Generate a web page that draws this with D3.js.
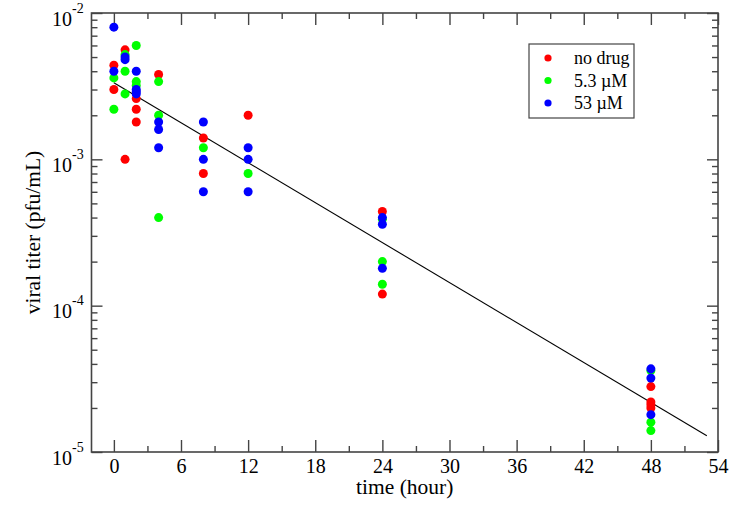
<!DOCTYPE html>
<html>
<head>
<meta charset="utf-8">
<script src="https://cdn.jsdelivr.net/npm/d3@7/dist/d3.min.js"></script>
<style>
  html, body { margin: 0; padding: 0; background: #fff; }
  svg { display: block; font-family: "Liberation Serif", "Times New Roman", serif; }
</style>
</head>
<body>
<svg id="chart" width="750" height="520"></svg>
<script>
// ---- data ----
const seriesNames = ["no drug", "5.3 \u00b5M", "53 \u00b5M"];
const seriesColors = ["#ff0000", "#00ff00", "#0000ff"];

const noDrugTime  = [0, 0, 1, 1, 2, 2, 2, 4, 8, 8, 12, 24, 24, 48, 48, 48, 48];
const noDrugTiter = [4.4e-3, 3.0e-3, 5.6e-3, 1.0e-3, 2.6e-3, 2.2e-3, 1.8e-3, 3.8e-3, 1.4e-3, 8.0e-4, 2.0e-3, 4.4e-4, 1.2e-4, 2.8e-5, 2.2e-5, 2.1e-5, 2.0e-5];

const lowDrugTime  = [0, 0, 1, 1, 1, 2, 2, 2, 4, 4, 4, 8, 12, 24, 24, 24, 48, 48, 48];
const lowDrugTiter = [3.6e-3, 2.2e-3, 5.2e-3, 4.0e-3, 2.8e-3, 6.0e-3, 3.4e-3, 3.2e-3, 3.4e-3, 2.0e-3, 4.0e-4, 1.2e-3, 8.0e-4, 3.9e-4, 2.0e-4, 1.4e-4, 3.6e-5, 1.6e-5, 1.4e-5];

const highDrugTime  = [0, 0, 1, 1, 2, 2, 2, 2, 4, 4, 4, 8, 8, 8, 12, 12, 12, 24, 24, 24, 48, 48, 48];
const highDrugTiter = [8.0e-3, 4.0e-3, 5.0e-3, 4.8e-3, 4.0e-3, 3.0e-3, 2.9e-3, 2.8e-3, 1.8e-3, 1.6e-3, 1.2e-3, 1.8e-3, 1.0e-3, 6.0e-4, 1.2e-3, 1.0e-3, 6.0e-4, 4.0e-4, 3.6e-4, 1.8e-4, 3.7e-5, 3.2e-5, 1.8e-5];

const fitTime  = [0, 53];
const fitTiter = [3.34e-3, 1.29e-5];

const xTicks = [0, 6, 12, 18, 24, 30, 36, 42, 48, 54];
const xMinorTicks = [3, 9, 15, 21, 27, 33, 39, 45, 51];
const yTickExponents = [-2, -3, -4, -5];

// ---- layout ----
const svg = d3.select("#chart");
const L = 91.5, R = 718, T = 13, B = 452;

const x = d3.scaleLinear().domain([-2, 54]).range([L, R]);
const y = d3.scaleLog().domain([1e-5, 1e-2]).range([B, T]);

const yMajor = yTickExponents.map(e => Math.pow(10, e));
const yMinor = [];
[-5, -4, -3].forEach(e => { for (let k = 2; k <= 9; k++) yMinor.push(k * Math.pow(10, e)); });

const axisColor = "#444";
function styleAxis(g) {
  g.select(".domain").remove();
  g.selectAll(".tick line").attr("stroke", axisColor).attr("stroke-width", 1.4);
}

// bottom
svg.append("g").attr("transform", `translate(0,${B})`)
  .call(d3.axisBottom(x).tickValues(xTicks).tickSize(-12).tickPadding(7).tickFormat(d3.format("d")))
  .call(styleAxis)
  .call(g => g.selectAll("text").attr("font-size", 20).attr("fill", "#000").attr("font-family", "Liberation Serif, serif"));
svg.append("g").attr("transform", `translate(0,${B})`)
  .call(d3.axisBottom(x).tickValues(xMinorTicks).tickSize(-6).tickFormat(""))
  .call(styleAxis);
// top
svg.append("g").attr("transform", `translate(0,${T})`)
  .call(d3.axisTop(x).tickValues(xTicks).tickSize(-12).tickFormat(""))
  .call(styleAxis);
svg.append("g").attr("transform", `translate(0,${T})`)
  .call(d3.axisTop(x).tickValues(xMinorTicks).tickSize(-6).tickFormat(""))
  .call(styleAxis);
// left
svg.append("g").attr("transform", `translate(${L},0)`)
  .call(d3.axisLeft(y).tickValues(yMajor).tickSize(-11).tickFormat(""))
  .call(styleAxis);
svg.append("g").attr("transform", `translate(${L},0)`)
  .call(d3.axisLeft(y).tickValues(yMinor).tickSize(-6).tickFormat(""))
  .call(styleAxis);
// right
svg.append("g").attr("transform", `translate(${R},0)`)
  .call(d3.axisRight(y).tickValues(yMajor).tickSize(-11).tickFormat(""))
  .call(styleAxis);
svg.append("g").attr("transform", `translate(${R},0)`)
  .call(d3.axisRight(y).tickValues(yMinor).tickSize(-6).tickFormat(""))
  .call(styleAxis);

// y tick labels with superscripts
const ylab = svg.append("g");
yTickExponents.forEach(e => {
  const yy = y(Math.pow(10, e));
  const t = ylab.append("text").attr("x", 52).attr("y", yy + 12.5).attr("font-size", 20).attr("fill", "#000");
  t.append("tspan").text("10");
  t.append("tspan").attr("font-size", 14).attr("dy", -13).text(String(e));
});

// frame
svg.append("rect").attr("x", L).attr("y", T).attr("width", R - L).attr("height", B - T)
  .attr("fill", "none").attr("stroke", axisColor).attr("stroke-width", 1.6);

// axis titles
svg.append("text").attr("x", (L + R) / 2).attr("y", 494).attr("text-anchor", "middle")
  .attr("font-size", 21.5).attr("fill", "#000").text("time (hour)");
svg.append("text").attr("transform", `translate(40,${(T + B) / 2}) rotate(-90)`)
  .attr("text-anchor", "middle").attr("font-size", 21.5).attr("fill", "#000").text("viral titer (pfu/mL)");

// fit line
const line = d3.line().x(d => x(d[0])).y(d => y(d[1]));
svg.append("path").datum(fitTime.map((t, i) => [t, fitTiter[i]]))
  .attr("d", line).attr("fill", "none").attr("stroke", "#000").attr("stroke-width", 1.1);

// points
const series = [
  [noDrugTime, noDrugTiter],
  [lowDrugTime, lowDrugTiter],
  [highDrugTime, highDrugTiter]
];
series.forEach((s, i) => {
  svg.append("g").selectAll("circle")
    .data(s[0].map((t, j) => [t, s[1][j]]))
    .join("circle")
    .attr("cx", d => x(d[0])).attr("cy", d => y(d[1])).attr("r", 4.5)
    .attr("fill", seriesColors[i]);
});

// legend
const lg = svg.append("g");
lg.append("rect").attr("x", 529).attr("y", 44).attr("width", 105).attr("height", 74)
  .attr("fill", "#fff").attr("stroke", axisColor).attr("stroke-width", 1.2);
seriesNames.forEach((n, i) => {
  const yy = 58 + i * 22.5;
  lg.append("circle").attr("cx", 548).attr("cy", yy).attr("r", 3.6).attr("fill", seriesColors[i]);
  lg.append("text").attr("x", 574).attr("y", yy + 6).attr("font-size", 18).attr("fill", "#000").text(n);
});
</script>
</body>
</html>
